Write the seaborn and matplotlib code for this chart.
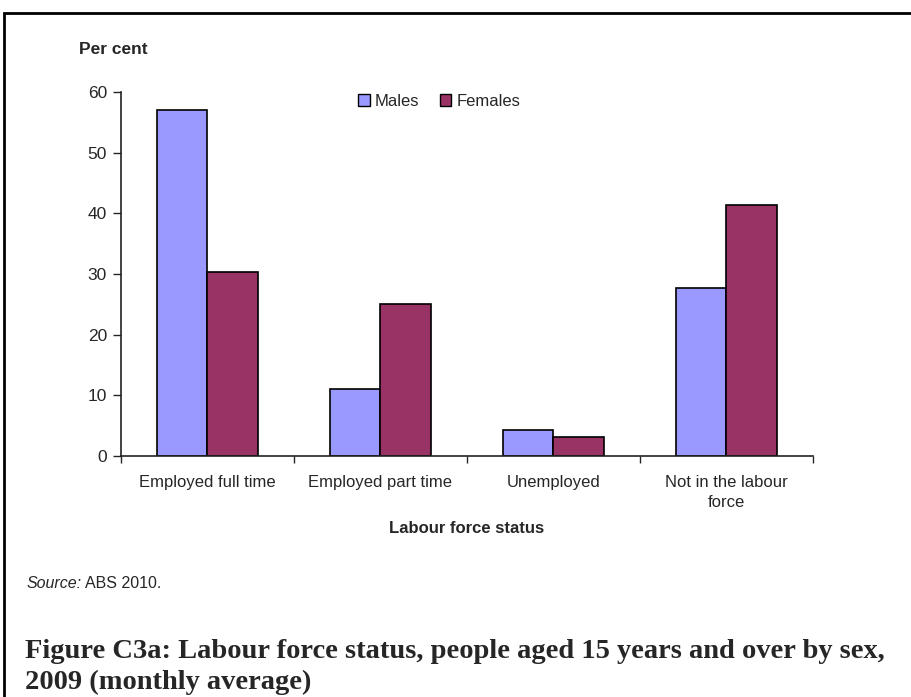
import matplotlib
matplotlib.use("Agg")
import matplotlib.pyplot as plt
import matplotlib.patches as mpatches
import pandas as pd
import seaborn as sns

# data
categories = ["Employed full time", "Employed part time", "Unemployed", "Not in the labour\nforce"]
males = [57.1, 11.0, 4.2, 27.7]
females = [30.4, 25.1, 3.1, 41.4]
series = ["Males", "Females"]
colors = {"Males": "#9999FF", "Females": "#993366"}

df = pd.DataFrame({
    "status": categories * 2,
    "sex": ["Males"] * len(categories) + ["Females"] * len(categories),
    "value": males + females,
})

sns.set_style("white")
plt.rcParams["font.family"] = ["Liberation Sans", "DejaVu Sans"]

fig = plt.figure(figsize=(9.11, 6.97), dpi=100)
ax = fig.add_axes([0.1328, 0.3458, 0.7596, 0.5222])

sns.barplot(data=df, x="status", y="value", hue="sex", hue_order=series,
            palette=colors, width=0.58, edgecolor="black", linewidth=1.2,
            saturation=1, ax=ax)

ax.set_ylim(0, 60)
ax.set_xlim(-0.5, len(categories) - 0.5)
ax.set_yticks(range(0, 61, 10))
ax.tick_params(axis="y", labelsize=12.5, length=6, width=1, direction="out", left=True, pad=4)

# ticks sit between categories, labels at centres
ax.set_xticks([i - 0.5 for i in range(len(categories) + 1)])
ax.set_xticklabels([])
ax.set_xticks(range(len(categories)), minor=True)
ax.set_xticklabels(categories, minor=True, linespacing=1.35)
ax.tick_params(axis="x", which="major", length=5, width=1, direction="out", bottom=True)
ax.tick_params(axis="x", which="minor", length=0, labelsize=12, pad=14)

for s in ["top", "right"]:
    ax.spines[s].set_visible(False)
for s in ["left", "bottom"]:
    ax.spines[s].set_color("#222222")
    ax.spines[s].set_linewidth(1.2)

ax.set_xlabel("Labour force status", fontsize=12, fontweight="bold", labelpad=8)
ax.set_ylabel("")

handles = [mpatches.Patch(facecolor=colors[s], edgecolor="black", linewidth=1) for s in series]
ax.legend(handles, series, loc="center", bbox_to_anchor=(0.46, 0.975), ncol=2,
          frameon=False, fontsize=12, handlelength=0.7, handleheight=0.7,
          handletextpad=0.3, columnspacing=1.2)

fig.text(79 / 911, 1 - 50 / 697, "Per cent", fontsize=12.5, fontweight="bold", va="center")

# source line: italic word followed by plain text
src = fig.text(27 / 911, 1 - 584 / 697, "Source:", fontsize=11.5, style="italic", va="center")
fig.canvas.draw()
bb = src.get_window_extent(renderer=fig.canvas.get_renderer())
fig.text((bb.x1 + 3) / 911, 1 - 584 / 697, "ABS 2010.", fontsize=11.5, va="center")

fig.text(25 / 911, 1 - 667 / 697,
         "Figure C3a: Labour force status, people aged 15 years and over by sex,\n2009 (monthly average)",
         fontsize=20.5, fontweight="bold", family=["Liberation Serif", "DejaVu Serif"],
         va="center", linespacing=1.3)

# border around the whole figure panel
fig.patches.append(mpatches.Rectangle((4 / 911, -0.02), 1.0, 1 - 13 / 697 + 0.02,
                                      transform=fig.transFigure, fill=False,
                                      edgecolor="black", linewidth=2))

fig.savefig("out.png", dpi=100)
